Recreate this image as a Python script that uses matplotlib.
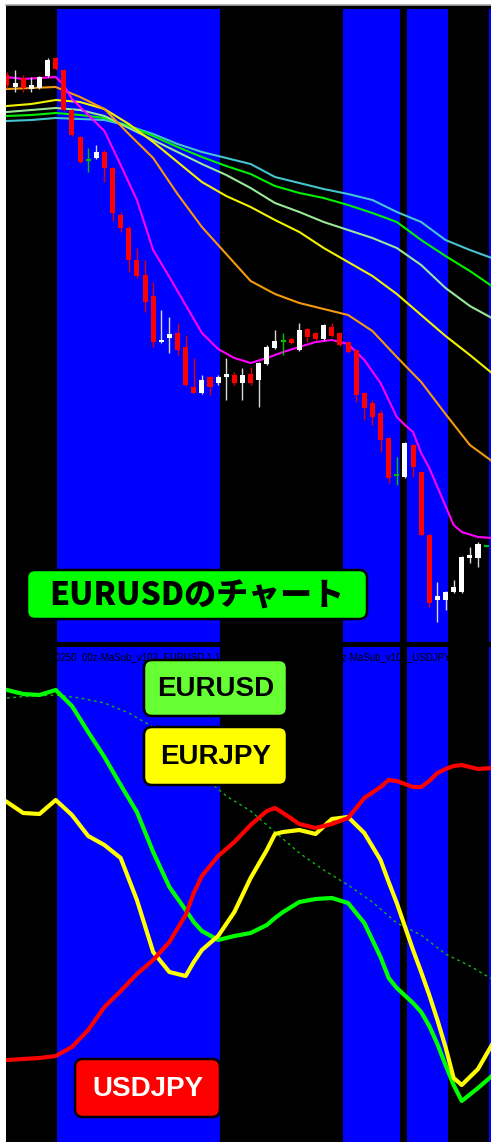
import matplotlib
matplotlib.use("Agg")
import matplotlib.pyplot as plt
from matplotlib.patches import FancyBboxPatch

# ---------------- data ----------------
# EURUSD candles (price level units, bar index 0..59)
opens = [575, 563, 572, 561, 562, 574, 592, 580, 540, 513,
         490, 492, 498, 482, 435, 422, 390, 375, 354, 308,
         312, 317, 303, 263, 257, 273, 267, 273, 275, 267,
         276, 270, 286, 302, 309, 311, 300, 321, 317, 311,
         323, 317, 308, 300, 257, 247, 237, 212, 175, 173,
         205, 178, 115, 50, 50, 58, 58, 92, 92, 104]
closes = [565, 567, 562, 565, 573, 590, 581, 540, 515, 488,
          490, 498, 482, 437, 422, 390, 374, 348, 308, 310,
          316, 300, 265, 257, 270, 263, 273, 276, 267, 275,
          267, 287, 303, 309, 309, 307, 320, 313, 311, 325,
          314, 305, 298, 255, 242, 233, 210, 172, 175, 207,
          183, 115, 47, 54, 58, 63, 93, 95, 106, 104]
highs = [578, 580, 575, 573, 574, 592, 593, 581, 541, 514,
         502, 505, 500, 483, 438, 424, 402, 390, 368, 340,
         333, 327, 315, 292, 275, 274, 275, 292, 278, 282,
         283, 288, 305, 320, 317, 312, 327, 322, 318, 326,
         327, 318, 309, 301, 258, 250, 240, 213, 193, 208,
         206, 179, 116, 68, 59, 70, 94, 103, 108, 105]
lows = [562, 558, 558, 558, 561, 573, 580, 539, 514, 487,
        478, 491, 468, 429, 418, 378, 372, 338, 303, 307,
        297, 295, 264, 257, 256, 255, 265, 250, 265, 250,
        265, 243, 285, 301, 295, 306, 299, 308, 310, 310,
        313, 304, 297, 248, 230, 225, 198, 167, 165, 172,
        173, 114, 43, 28, 40, 57, 57, 87, 83, 103]

# fast MA (magenta)
mag_x = [0, 2, 4, 6, 7, 8, 10, 12, 14, 16, 18, 20, 22, 24, 26, 28, 30, 32,
         34, 36, 38, 40, 42, 44, 46, 48, 49, 50, 51, 52, 53, 54, 55, 56, 58, 59.7]
ma_magenta = [573, 571, 572, 573, 565, 551, 535, 519, 485, 450, 400, 373,
              345, 317, 301, 292, 287, 292, 298, 303, 308, 310, 306, 290,
              267, 233, 225, 218, 197, 182, 163, 144, 125, 118, 113, 112]

# slower MAs
ma_x = [0, 3, 6, 9, 12, 15, 18, 21, 24, 27, 30, 33, 36, 39, 42, 45, 48, 51, 54, 57, 59.7]
ma_orange = [561, 562, 563, 553, 541, 516, 492, 456, 423, 396, 369,
             356, 347, 341, 335, 319, 293, 268, 236, 205, 189]
ma_yellow = [544, 546, 550, 548, 541, 526, 508, 488, 468, 454, 443,
             430, 418, 402, 388, 374, 356, 335, 314, 295, 277]
ma_lightgreen = [538, 540, 542, 540, 534, 522, 510, 498, 486, 475, 462,
                 447, 438, 428, 420, 412, 402, 385, 362, 344, 332]
ma_green = [534, 535, 537, 535, 532, 524, 514, 503, 493, 484, 476,
            464, 457, 452, 445, 437, 428, 410, 394, 379, 364]
ma_cyan = [529, 530, 532, 531, 530, 524, 516, 506, 498, 492, 486,
           473, 467, 461, 456, 450, 438, 428, 410, 400, 392]

# sub window: currency strength lines
sub_x = [0, 2, 4, 6, 8, 10, 12, 14, 16, 18, 20, 22, 23, 24, 26, 28, 30, 32, 33,
         34, 36, 38, 40, 42, 44, 46, 47, 48, 50, 51, 52, 53, 54, 55, 56, 58, 59.7]
eurusd = [452, 448, 447, 452, 436, 410, 385, 357, 330, 290, 255, 232, 220,
          211, 202, 206, 209, 217, 224, 230, 240, 243, 244, 239, 219, 185,
          164, 154, 139, 130, 116, 98, 77, 57, 41, 54, 66]
eurjpy = [340, 329, 328, 342, 327, 306, 297, 284, 242, 190, 170, 166, 180,
          192, 206, 230, 264, 292, 308, 310, 312, 308, 323, 325, 309, 282,
          260, 239, 192, 170, 147, 122, 95, 64, 57, 73, 97]
usdjpy = [82, 83, 84, 86, 95, 112, 135, 151, 168, 182, 200, 227, 249,
          266, 286, 300, 317, 331, 334, 329, 318, 314, 318, 324, 344, 355,
          362, 361, 355, 355, 361, 369, 373, 376, 377, 373, 374]
sig_x = [0, 3, 6, 9, 12, 15, 18, 21, 24, 27, 30, 33, 36, 39, 42, 45, 48, 51, 54, 57, 59.7]
signal = [444, 446, 447, 444, 439, 429, 415, 392, 367, 346, 331,
          310, 289, 272, 257, 240, 219, 207, 188, 176, 163]

# blue session bands (bar index)
band_start = [6.2, 41.4, 49.3, 59.4]
band_end = [26.2, 48.4, 54.3, 61.0]

# ---------------- figure ----------------
W, H = 491, 1142
fig = plt.figure(figsize=(W / 100, H / 100), dpi=100, facecolor='white')

def clean(ax):
    ax.set_xticks([])
    ax.set_yticks([])
    for s in ax.spines.values():
        s.set_visible(False)

bg = fig.add_axes([6 / W, 0, 485 / W, 1137 / H])
bg.set_facecolor('black')
clean(bg)

xlim = (-0.12, 59.6)

# main chart
ax = fig.add_axes([6 / W, (H - 642) / H, 485 / W, 636 / H])
ax.set_facecolor('black')
clean(ax)
ax.set_xlim(*xlim)
ax.set_ylim(8, 644)
for a, b in zip(band_start, band_end):
    ax.axvspan(a, b, ymin=0, ymax=0.995, color='#0000FF', lw=0, zorder=0)

ax.plot(ma_x, ma_cyan, color='#45C3CF', lw=1.5, zorder=2)
ax.plot(ma_x, ma_green, color='#00F000', lw=1.5, zorder=2)
ax.plot(ma_x, ma_lightgreen, color='#98E898', lw=1.5, zorder=2)
ax.plot(ma_x, ma_yellow, color='#F2F200', lw=1.5, zorder=2)
ax.plot(ma_x, ma_orange, color='#F59A0C', lw=1.5, zorder=2)
ax.plot(mag_x, ma_magenta, color='#FF00FF', lw=1.5, zorder=2)

for i in range(len(opens)):
    o, c, h, l = opens[i], closes[i], highs[i], lows[i]
    if c < o:
        col, wick = '#FF0000', '#E00000'
    elif c > o:
        col, wick = '#FFFFFF', '#D8D8D8'
    else:
        col, wick = '#00C000', '#00C000'
    ax.vlines(i, l, h, color=wick, lw=1.0, zorder=3)
    if c == o:
        ax.hlines(o, i - 0.3, i + 0.3, color=col, lw=1.5, zorder=4)
    else:
        ax.bar(i, abs(c - o), bottom=min(o, c), width=0.62, color=col, lw=0, zorder=4)

# sub window
sub = fig.add_axes([6 / W, 0, 485 / W, 495 / H])
sub.set_facecolor('black')
clean(sub)
sub.set_xlim(*xlim)
sub.set_ylim(0, 495)
for a, b in zip(band_start, band_end):
    sub.axvspan(a, b, color='#0000FF', lw=0, zorder=0)
sub.plot(sig_x, signal, color='#14B414', lw=1.0, ls=(0, (2, 2.5)), zorder=2)
sub.plot(sub_x, eurusd, color='#00FF00', lw=3, zorder=3, solid_joinstyle='round')
sub.plot(sub_x, eurjpy, color='#FFFF00', lw=3, zorder=4, solid_joinstyle='round')
sub.plot(sub_x, usdjpy, color='#FF0000', lw=3, zorder=5, solid_joinstyle='round')

# ---------------- labels (pixel overlay) ----------------
ov = fig.add_axes([0, 0, 1, 1])
ov.set_xlim(0, W)
ov.set_ylim(H, 0)
ov.patch.set_alpha(0)
clean(ov)

ov.plot([6, W], [4.5, 4.5], color='#A8A8A8', lw=1.2)

sans = ['Liberation Sans', 'DejaVu Sans']
jp = ['Noto Sans CJK JP', 'DejaVu Sans']

ov.text(55, 657, '0250  00z-MaSub_v102_EURUSD 1.1048',
        color='black', fontsize=7, family=sans, va='center', ha='left')
ov.text(332, 657, '00z-MaSub_v102_USDJPY',
        color='black', fontsize=7, family=sans, va='center', ha='left')


def label(x0, y0, x1, y1, txt, fc, tc, fam, size, weight='bold'):
    box = FancyBboxPatch((x0, y0), x1 - x0, y1 - y0,
                         boxstyle='round,pad=0,rounding_size=8',
                         fc=fc, ec='black', lw=1.8, zorder=10)
    ov.add_patch(box)
    ov.text((x0 + x1) / 2, (y0 + y1) / 2 + 1, txt, color=tc, fontsize=size,
            family=fam, weight=weight, ha='center', va='center', zorder=11)


label(27, 570, 367, 619, 'EURUSDのチャート', '#00FF00', 'black', jp, 23, 'black')
label(144, 660, 287, 716, 'EURUSD', '#66FF33', 'black', sans, 20)
label(144, 727, 287, 785, 'EURJPY', '#FFFF00', 'black', sans, 20)
label(75, 1059, 220, 1117, 'USDJPY', '#FF0000', 'white', sans, 20)

fig.savefig('out.png', dpi=100, facecolor='white')
